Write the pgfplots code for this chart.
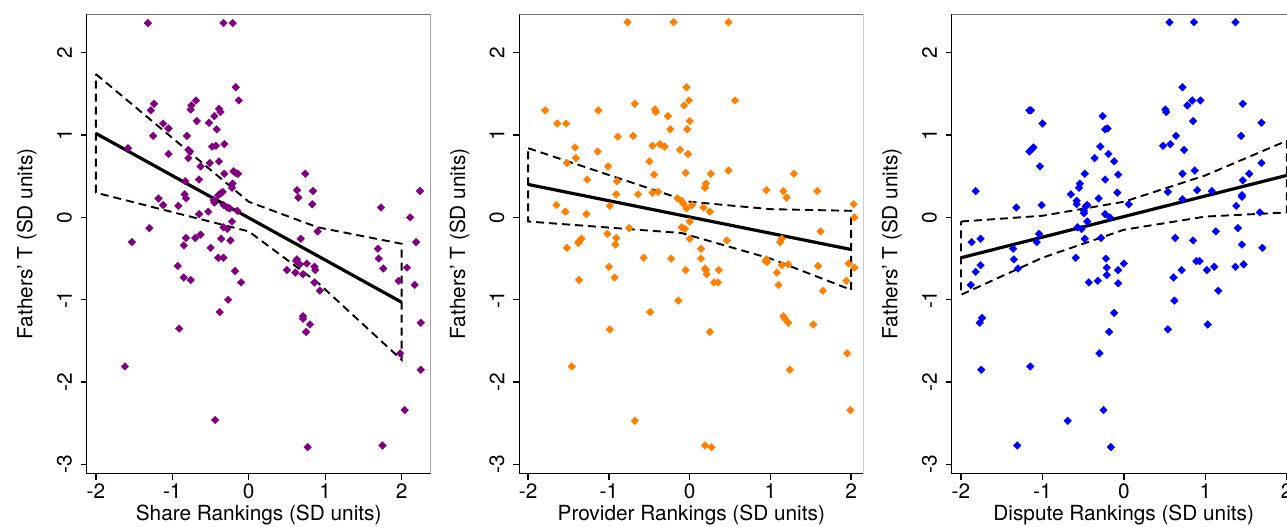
\documentclass[border=0pt]{standalone}
\usepackage{fontspec}
\setmainfont{TeX Gyre Heros}
\usepackage{pgfplots}
\pgfplotsset{compat=1.18}
\definecolor{cShare}{RGB}{128,0,128}
\definecolor{cProv}{RGB}{255,128,0}
\definecolor{cDisp}{RGB}{0,0,255}

\pgfplotsset{
  panel/.style={
    scale only axis, width=172pt, height=229.75pt,
    ymin=-3.11, ymax=2.47,
    axis lines=left, axis line style={-, black, line width=0.75pt},
    xtick={-2,-1,0,1,2}, xticklabels={-2,-1,0,1,2},
    ytick={-3,-2,-1,0,1,2}, yticklabels={-3,-2,-1,0,1,2},
    tick align=outside, major tick length=3pt,
    tick style={black, line width=0.7pt},
    ticklabel style={font=\fontsize{10.4}{12}\selectfont},
    xticklabel style={anchor=north, yshift=1.25pt},
    yticklabel style={xshift=-0.9pt, rotate=90, anchor=south},
    label style={font=\fontsize{10.4}{12}\selectfont},
    ylabel={Fathers' T (SD units)},
    xlabel style={at={(axis description cs:0.5,0)}, anchor=center, yshift=-20.75pt},
    ylabel style={at={(axis description cs:-0.174,0.5)}, anchor=center},
  },
  pts/.style={only marks, mark=square*, mark size=1.35pt,
    mark options={rotate=45, fill=#1, draw=#1, line width=0.2pt}},
  ci/.style={black, line width=0.95pt, dash pattern=on 4pt off 2.5pt},
  fit/.style={black, line width=1.6pt},
}

\begin{document}
\begin{tikzpicture}

% Share rankings
\begin{axis}[panel, at={(43.35pt,-236.75pt)}, anchor=south west,
  xmin=-2.12, xmax=2.38, xlabel={Share Rankings (SD units)}]
\addplot[pts=cShare] coordinates {
(-1.32,2.36) (-0.33,2.36) (-0.21,2.36) (-0.17,1.58) (-0.13,1.42) (-1.24,1.38) (-1.28,1.30)
(-0.69,1.42) (-0.75,1.36) (-0.76,1.31) (-0.39,1.32) (-0.37,1.28) (-0.45,1.23) (-0.68,1.17)
(-0.52,1.15) (-1.12,1.14) (-1.05,1.08) (-0.42,1.07) (-1.25,0.99) (-0.81,0.99) (-0.32,0.89)
(-0.48,0.86) (-0.43,0.87) (-1.58,0.84) (-0.79,0.82) (-0.77,0.80) (-1.05,0.77) (-0.79,0.72)
(-0.39,0.68) (-0.51,0.66) (-0.63,0.62) (-0.32,0.53) (-0.20,0.56) (-0.17,0.54) (-0.14,0.53)
(0.74,0.53) (-0.65,0.46) (-0.83,0.44) (-0.21,0.41) (-0.22,0.36) (0.63,0.33) (0.84,0.32)
(2.24,0.32) (-0.34,0.31) (-0.37,0.29) (-0.40,0.27) (-0.84,0.28) (-0.82,0.23) (-1.18,0.23)
(0.65,0.24) (-1.12,0.15) (-0.92,0.14) (-0.46,0.21) (-0.45,0.18) (-0.33,0.15) (-0.28,0.12)
(-0.25,0.11) (0.83,0.16) (1.73,0.12) (-0.53,0.07) (-0.65,0.04) (-0.15,0.08) (2.11,0.00)
(-0.22,-0.05) (-0.33,-0.12) (-0.28,-0.14) (-1.30,-0.13) (0.90,-0.17) (-0.82,-0.25) (-0.70,-0.25)
(-0.63,-0.21) (-0.36,-0.26) (-0.24,-0.28) (0.68,-0.26) (-1.53,-0.30) (-0.85,-0.34) (-0.50,-0.37)
(1.69,-0.38) (2.19,-0.30) (-0.40,-0.49) (-0.33,-0.49) (0.63,-0.51) (1.70,-0.50)
(-0.93,-0.59) (-0.85,-0.73) (-0.76,-0.76) (-0.18,-0.65) (-0.10,-0.79) (-0.27,-1.00) (-0.38,-1.15)
(-0.91,-1.35) (-1.62,-1.81) (-0.44,-2.46) (0.62,-0.53) (0.67,-0.57) (0.76,-0.56) (0.50,-0.64)
(0.61,-0.67) (0.71,-0.69) (0.86,-0.60) (0.87,-0.64) (0.86,-0.79) (0.93,-0.89) (0.71,-1.20)
(0.71,-1.23) (0.80,-1.30) (0.75,-1.39) (0.77,-2.79) (1.76,-0.62) (2.07,-0.61) (1.96,-0.77)
(2.17,-0.82) (2.25,-1.28) (1.98,-1.65) (2.25,-1.85) (2.04,-2.34) (1.75,-2.77)
};
\addplot[ci] coordinates {(-2,1.74) (0,0.19) (0.9,-0.12) (2,-0.32) (2,-1.73) (0.9,-0.79) (0,-0.17) (-2,0.30) (-2,1.74)};
\addplot[fit] coordinates {(-2,1.02) (2,-1.03)};
\draw[black!55, line width=0.75pt] (rel axis cs:0,1) -- (rel axis cs:1,1) -- (rel axis cs:1,0);
\end{axis}

% Provider rankings
\begin{axis}[panel, at={(259.65pt,-236.75pt)}, anchor=south west,
  xmin=-2.11, xmax=2.15, xlabel={Provider Rankings (SD units)}]
\addplot[pts=cProv] coordinates {
(-0.77,2.37) (-0.20,2.37) (0.48,2.37) (-0.04,1.58) (-0.01,1.42) (-0.07,1.36) (0.56,1.42)
(-0.68,1.38) (-1.79,1.30) (-1.13,1.30) (-0.43,1.31) (-0.42,1.28) (-0.27,1.23) (-1.64,1.14)
(-1.53,1.14) (0.00,1.17) (-0.24,1.07) (-0.03,1.07) (-0.89,0.98) (-0.70,0.99) (-1.42,0.85)
(-0.46,0.87) (-0.37,0.89) (-0.31,0.86) (-0.12,0.82) (-0.02,0.77) (-1.41,0.72) (-1.14,0.80)
(-1.52,0.66) (-0.50,0.68) (-1.01,0.62) (-0.44,0.52) (-0.05,0.54) (0.26,0.53) (0.48,0.57)
(1.29,0.53) (-1.27,0.46) (-0.90,0.44) (0.20,0.41) (0.19,0.36) (0.95,0.33) (1.16,0.32)
(1.58,0.32) (-0.46,0.30) (-0.39,0.31) (-0.91,0.28) (-0.64,0.28) (1.20,0.24) (-0.15,0.23)
(-0.10,0.20) (-0.08,0.17) (0.03,0.15) (-0.04,0.11) (-1.65,0.15) (-0.99,0.14) (0.17,0.12)
(0.25,0.07) (2.03,0.16) (-1.54,0.07) (-1.28,0.04) (2.04,0.00) (0.00,-0.05) (-0.10,-0.12)
(-0.06,-0.14) (-0.75,-0.13) (1.62,-0.17) (-1.02,-0.20) (-0.91,-0.25) (0.00,-0.26) (0.46,-0.28)
(-1.34,-0.26) (-1.37,-0.29) (-1.38,-0.31) (-0.92,-0.33) (1.14,-0.26) (1.12,-0.30) (-1.52,-0.37)
(0.14,-0.38) (-0.57,-0.49) (-0.23,-0.50) (0.14,-0.50) (0.95,-0.51)
(-1.00,-0.60) (-0.93,-0.73) (-1.37,-0.76) (-0.05,-0.64) (0.19,-0.62) (0.20,-0.64) (0.21,-0.69)
(0.36,-0.64) (0.30,-0.79) (0.35,-0.79) (-0.14,-1.01) (-0.49,-1.15) (-0.99,-1.36) (0.25,-1.39)
(-1.46,-1.81) (-0.68,-2.47) (0.19,-2.77) (0.27,-2.79) (0.94,-0.53) (0.96,-0.54) (1.14,-0.58)
(1.22,-0.57) (1.08,-0.67) (1.10,-0.82) (1.59,-0.59) (1.97,-0.56) (2.04,-0.61) (1.94,-0.77)
(1.65,-0.89) (1.16,-1.20) (1.18,-1.23) (1.22,-1.28) (1.53,-1.30) (1.24,-1.85) (1.95,-1.65)
(1.99,-2.34)
};
\addplot[ci] coordinates {(-2,0.84) (0,0.19) (1,0.10) (2,0.08) (2,-0.88) (1,-0.50) (-0.1,-0.19) (-2,-0.05) (-2,0.84)};
\addplot[fit] coordinates {(-2,0.40) (2,-0.39)};
\draw[black!55, line width=0.75pt] (rel axis cs:0,1) -- (rel axis cs:1,1) -- (rel axis cs:1,0);
\end{axis}

% Dispute rankings
\begin{axis}[panel, at={(475.85pt,-236.75pt)}, anchor=south west,
  xmin=-2.114, xmax=2.11, xlabel={Dispute Rankings (SD units)}]
\addplot[pts=cDisp] coordinates {
(0.56,2.37) (0.86,2.37) (1.37,2.37) (0.72,1.58) (0.84,1.42) (0.94,1.42) (0.78,1.36)
(1.46,1.38) (-1.16,1.30) (-1.14,1.30) (0.51,1.31) (0.52,1.28) (-0.26,1.23) (-1.00,1.14)
(0.85,1.17) (1.69,1.15) (-0.23,1.07) (-0.20,1.08) (0.64,0.99) (1.44,0.99) (0.48,0.87)
(0.57,0.89) (-0.29,0.86) (-1.16,0.80) (-1.13,0.83) (-1.11,0.85) (0.74,0.82) (-0.19,0.77)
(-0.36,0.72) (-0.12,0.68) (1.69,0.66) (-1.03,0.62) (-0.48,0.53) (0.72,0.53) (0.87,0.57)
(1.54,0.53) (-0.07,0.52) (-0.23,0.46) (1.46,0.45) (-0.54,0.41) (-0.55,0.36) (-1.82,0.32)
(0.54,0.31) (0.90,0.33) (1.08,0.32) (-0.08,0.30) (-0.65,0.28) (1.45,0.27) (1.45,0.25)
(0.72,0.22) (-0.31,0.23) (-0.58,0.20) (-0.58,0.16) (-0.45,0.15) (-0.47,0.13) (-1.01,0.15)
(-1.32,0.12) (0.06,0.16) (1.38,0.14) (-0.49,0.08) (-0.49,0.05) (-0.23,0.04) (-0.17,0.00)
(1.67,0.06) (-0.45,-0.05) (-0.57,-0.12) (-0.52,-0.14) (1.40,-0.13) (1.13,-0.17) (-1.04,-0.20)
(-1.76,-0.26) (-1.87,-0.30) (-1.07,-0.30) (-0.48,-0.26) (-0.28,-0.25) (0.63,-0.25) (0.85,-0.28)
(1.45,-0.33) (1.70,-0.37) (-1.36,-0.38)
(-1.35,-0.51) (-1.30,-0.62) (-1.76,-0.58) (-1.82,-0.66) (-1.88,-0.82) (-0.59,-0.49) (-0.22,-0.50)
(-0.21,-0.61) (-0.21,-0.70) (-0.07,-0.64) (0.00,-0.56) (-0.43,-0.79) (-0.32,-0.77) (-0.07,-0.80)
(-0.12,-1.16) (-0.18,-1.39) (-0.30,-1.65) (-1.74,-1.22) (-1.77,-1.28) (-1.75,-1.85) (-1.15,-1.81)
(-0.69,-2.47) (-0.25,-2.34) (-1.31,-2.77) (-0.16,-2.79) (0.61,-0.73) (0.62,-1.01) (0.54,-1.36)
(0.71,-0.64) (0.89,-0.53) (0.93,-0.53) (1.02,-0.64) (1.11,-0.60) (1.16,-0.89) (1.03,-1.30)
(1.37,-0.60) (1.47,-0.57)
};
\addplot[ci] coordinates {(-2,-0.05) (-1,0.02) (0,0.19) (1,0.51) (2,0.93) (2,0.06) (1,0.01) (0,-0.15) (-1,-0.49) (-2,-0.94) (-2,-0.05)};
\addplot[fit] coordinates {(-2,-0.49) (2,0.51)};
\draw[black!55, line width=0.75pt] (rel axis cs:0,1) -- (rel axis cs:1,1) -- (rel axis cs:1,0);
\end{axis}

\pgfresetboundingbox
\useasboundingbox (0pt,0pt) rectangle (643.5pt,-263pt);
\end{tikzpicture}
\end{document}
